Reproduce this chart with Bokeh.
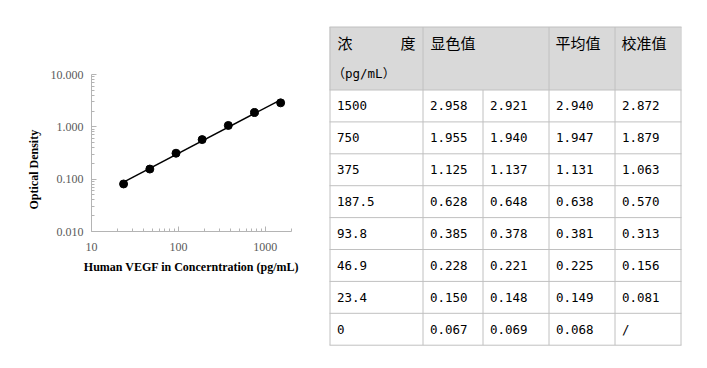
import numpy as np
from bokeh.plotting import figure
from bokeh.layouts import row, column
from bokeh.models import (FixedTicker, PrintfTickFormatter, Title, Range1d)
from bokeh.core.properties import value
from bokeh.embed import file_html
from bokeh.resources import INLINE

# ---------------- data ----------------
conc = [1500, 750, 375, 187.5, 93.8, 46.9, 23.4, 0]
od1 = [2.958, 1.955, 1.125, 0.628, 0.385, 0.228, 0.150, 0.067]
od2 = [2.921, 1.940, 1.137, 0.648, 0.378, 0.221, 0.148, 0.069]
od_mean = [2.940, 1.947, 1.131, 0.638, 0.381, 0.225, 0.149, 0.068]
od_cal = [2.872, 1.879, 1.063, 0.570, 0.313, 0.156, 0.081, None]

header1 = ["浓", "度", "显色值", "平均值", "校准值"]
header2 = "（pg/mL）"

x_ticks = [10, 100, 1000]
y_ticks = [0.01, 0.1, 1, 10]

# ---------------- chart ----------------
GRAY_AX = "#b4b4b4"

p = figure(width=320, height=360, x_axis_type="log", y_axis_type="log",
           x_range=Range1d(10, 2000), y_range=Range1d(0.01, 10),
           output_backend="svg", toolbar_location=None,
           min_border_left=91, min_border_right=29,
           min_border_top=74, min_border_bottom=129)
p.outline_line_color = None
p.grid.visible = False

px = [c for c in conc if c > 0]
py = [v for c, v in zip(conc, od_cal) if c > 0]

# power-law trend line fitted in log space
k, b = np.polyfit(np.log10(px), np.log10(py), 1)
fx = [min(px), max(px)]
fy = [10 ** (k * np.log10(v) + b) for v in fx]
p.line(fx, fy, line_color="black", line_width=1.5)
p.scatter(px, py, size=8, color="black")

x_minor = [m * 10 ** e for e in (1, 2, 3) for m in range(2, 10) if m * 10 ** e <= 2000]
y_minor = [m * 10.0 ** e for e in (-2, -1, 0) for m in range(2, 10)]
p.xaxis.ticker = FixedTicker(ticks=x_ticks, minor_ticks=x_minor)
p.yaxis.ticker = FixedTicker(ticks=y_ticks, minor_ticks=y_minor)
p.xaxis.formatter = PrintfTickFormatter(format="%d")
p.yaxis.formatter = PrintfTickFormatter(format="%.3f")

for ax in (p.xaxis[0], p.yaxis[0]):
    ax.axis_line_color = GRAY_AX
    ax.major_tick_line_color = GRAY_AX
    ax.minor_tick_line_color = GRAY_AX
    ax.major_tick_in = 5
    ax.major_tick_out = 0
    ax.minor_tick_in = 3
    ax.minor_tick_out = 0
    ax.major_label_text_font = "Liberation Serif"
    ax.major_label_text_font_size = "12px"
    ax.major_label_text_color = "#595959"

p.xaxis.major_label_standoff = 11
p.yaxis.major_label_standoff = 8
p.xaxis.axis_label = "Human VEGF in Concerntration (pg/mL)"
p.xaxis.axis_label_text_font = "Liberation Serif"
p.xaxis.axis_label_text_font_style = "bold"
p.xaxis.axis_label_text_font_size = "12px"
p.xaxis.axis_label_text_color = "black"
p.xaxis.axis_label_standoff = 6

ytitle = Title(text="Optical Density", align="left", offset=22, standoff=14,
               text_font="Liberation Serif", text_font_style="bold",
               text_font_size="12px", text_color="black")
p.add_layout(ytitle, "left")

# ---------------- table ----------------
TW, TH = 387, 360
t = figure(width=TW, height=TH, x_range=Range1d(0, TW), y_range=Range1d(TH, 0),
           output_backend="svg", toolbar_location=None, min_border=0)
t.axis.visible = False
t.grid.visible = False
t.outline_line_color = None

col_edges = [9, 102, 162, 228, 294, 360]
head_top, head_bot = 26.5, 89.5
row_h = 31.9
n = len(conc)
row_edges = [head_bot + row_h * i for i in range(n + 1)]
LINE = "#c0c0c0"

t.quad(left=[col_edges[0]], right=[col_edges[-1]], top=[head_top], bottom=[head_bot],
       fill_color="#d9d9d9", line_color=None)

hys = [head_top] + row_edges
t.segment(x0=[col_edges[0]] * len(hys), x1=[col_edges[-1] + 1] * len(hys),
          y0=hys, y1=hys, line_color=LINE, line_width=1)
vx = [c + 0.5 for c in col_edges]
vy0 = [head_top if i != 2 else head_bot for i in range(len(vx))]
t.segment(x0=vx, x1=vx, y0=vy0, y1=[row_edges[-1]] * len(vx),
          line_color=LINE, line_width=1)

CJK = value("Noto Sans CJK SC")
MONO = value("DejaVu Sans Mono, Noto Sans CJK SC")

hy1 = head_top + 15
hy2 = head_top + 46.5
t.text(x=[col_edges[0] + 8, col_edges[1] + 8, col_edges[3] + 7, col_edges[4] + 7],
       y=[hy1] * 4, text=[header1[0], header1[2], header1[3], header1[4]],
       text_font=CJK, text_font_size="15px", text_color="black",
       text_baseline="middle", text_align="left")
t.text(x=[col_edges[1] - 7], y=[hy1], text=[header1[1]],
       text_font=CJK, text_font_size="15px", text_color="black",
       text_baseline="middle", text_align="right")
t.text(x=[col_edges[0] + 3], y=[hy2], text=[header2],
       text_font=MONO, text_font_size="12.5px", text_color="black",
       text_baseline="middle", text_align="left")

xs, ys, txt = [], [], []
cols = [[f"{c:g}" for c in conc],
        [f"{v:.3f}" for v in od1],
        [f"{v:.3f}" for v in od2],
        [f"{v:.3f}" for v in od_mean],
        [("/" if v is None else f"{v:.3f}") for v in od_cal]]
for j, colvals in enumerate(cols):
    for i, s in enumerate(colvals):
        xs.append(col_edges[j] + 7.5)
        ys.append((row_edges[i] + row_edges[i + 1]) / 2)
        txt.append(s)
t.text(x=xs, y=ys, text=txt, text_font=MONO, text_font_size="12.5px",
       text_color="black", text_baseline="middle", text_align="left")

layout = row(column(p), column(t))
open("out.html", "w").write(file_html(layout, INLINE))
